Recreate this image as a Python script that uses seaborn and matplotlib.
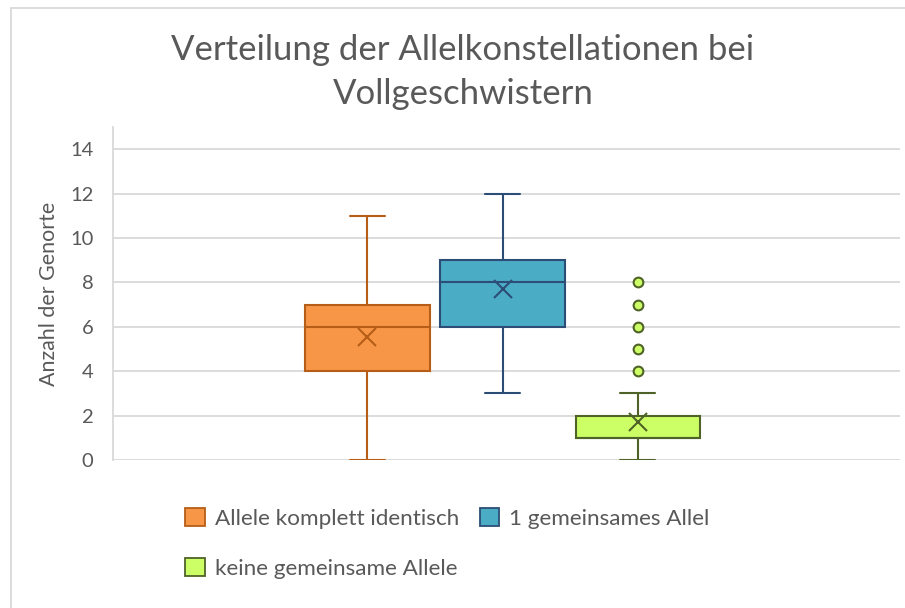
import matplotlib
matplotlib.use("Agg")
import matplotlib.pyplot as plt
from matplotlib.patches import Patch, Rectangle
import numpy as np
import pandas as pd
import seaborn as sns

# number of loci per sibling pair, as value -> count
categories = ["Allele komplett identisch", "1 gemeinsames Allel", "keine gemeinsame Allele"]
identisch_counts = {0: 1, 1: 1, 2: 2, 3: 4, 4: 6, 5: 5, 6: 6, 7: 7, 8: 4, 9: 2, 10: 1, 11: 1}
ein_allel_counts = {3: 1, 4: 1, 5: 3, 6: 6, 7: 6, 8: 8, 9: 8, 10: 5, 11: 1, 12: 1}
kein_allel_counts = {0: 10, 1: 13, 2: 12, 3: 1, 4: 1, 5: 1, 6: 1, 7: 1, 8: 1}
yticks = [0, 2, 4, 6, 8, 10, 12, 14]

fill_colors = ["#F79646", "#4BACC6", "#CCFF66"]
edge_colors = ["#B65E17", "#2C4D75", "#4F6228"]
text_col = "#595959"
grid_col = "#D9D9D9"

rows = []
for cat, counts in zip(categories, [identisch_counts, ein_allel_counts, kein_allel_counts]):
    for v, n in counts.items():
        rows += [(cat, v)] * n
df = pd.DataFrame(rows, columns=["Gruppe", "Anzahl"])
df["x"] = "alle"

sns.set_style("white")
plt.rcParams["font.family"] = ["Lato", "DejaVu Sans"]

fig = plt.figure(figsize=(9.05, 6.08), dpi=100)
ax = fig.add_axes([113 / 905, 1 - 460 / 608, (900 - 113) / 905, (460 - 127) / 608])

sns.boxplot(data=df, x="x", y="Anzahl", hue="Gruppe", hue_order=categories,
            palette=fill_colors, width=0.515, gap=0.08, whis=1.5,
            showmeans=True, legend=False, ax=ax,
            linewidth=1.5,
            meanprops=dict(marker="x", markersize=13, markeredgewidth=1.5),
            flierprops=dict(marker="o", markersize=7, markeredgewidth=1.5))

# per-group edge colours like Excel, short caps
cap_half = 17.5 / 787
for i, c in enumerate(ax.containers):
    ec = edge_colors[i]
    for b in c.boxes:
        b.set_edgecolor(ec)
        b.set_facecolor(fill_colors[i])
    for ln in list(c.whiskers) + list(c.caps) + list(c.medians):
        ln.set_color(ec)
    for ln in c.caps:
        xc = np.mean(ln.get_xdata())
        ln.set_xdata([xc - cap_half, xc + cap_half])
    for ln in c.means:
        ln.set_markeredgecolor(ec)
        ln.set_markerfacecolor(ec)
    for ln in c.fliers:
        ln.set_markerfacecolor(fill_colors[i])
        ln.set_markeredgecolor(ec)

ax.set_xlim(-0.495, 0.505)
ax.set_ylim(0, 15)
ax.set_yticks(yticks)
ax.set_xticks([])
ax.set_xlabel("")
ax.set_ylabel("Anzahl der Genorte", fontsize=15.4, color=text_col, labelpad=8)
ax.tick_params(axis="y", labelsize=14.5, labelcolor=text_col, length=0, pad=14)
ax.yaxis.grid(True, color=grid_col, linewidth=1.3)
ax.set_axisbelow(True)
for s in ["top", "right", "bottom"]:
    ax.spines[s].set_visible(False)
ax.spines["left"].set_color(grid_col)
ax.spines["left"].set_linewidth(1.3)

fig.text(463 / 905, 1 - 72 / 608, "Verteilung der Allelkonstellationen bei\nVollgeschwistern",
         ha="center", va="center", fontsize=25, color=text_col, linespacing=1.5)

handles = [Patch(facecolor=fill_colors[i], edgecolor=edge_colors[i], linewidth=1.3, label=categories[i])
           for i in range(3)]
order = [0, 2, 1]
fig.legend([handles[i] for i in order], [categories[i] for i in order], ncol=2,
           loc="upper left", bbox_to_anchor=(185 / 905, 1 - 508 / 608), frameon=False,
           borderpad=0, borderaxespad=0,
           fontsize=16.2, labelcolor=text_col, handlelength=0.88, handleheight=0.88,
           handletextpad=0.44, columnspacing=0.92, labelspacing=1.28)

fig.patches.append(Rectangle((11 / 905, -0.1), 1.2, 1.1 - 8 / 608, transform=fig.transFigure,
                             fill=False, edgecolor="#D9D9D9", linewidth=1.3))

fig.savefig("out.png", dpi=100, facecolor="white")
